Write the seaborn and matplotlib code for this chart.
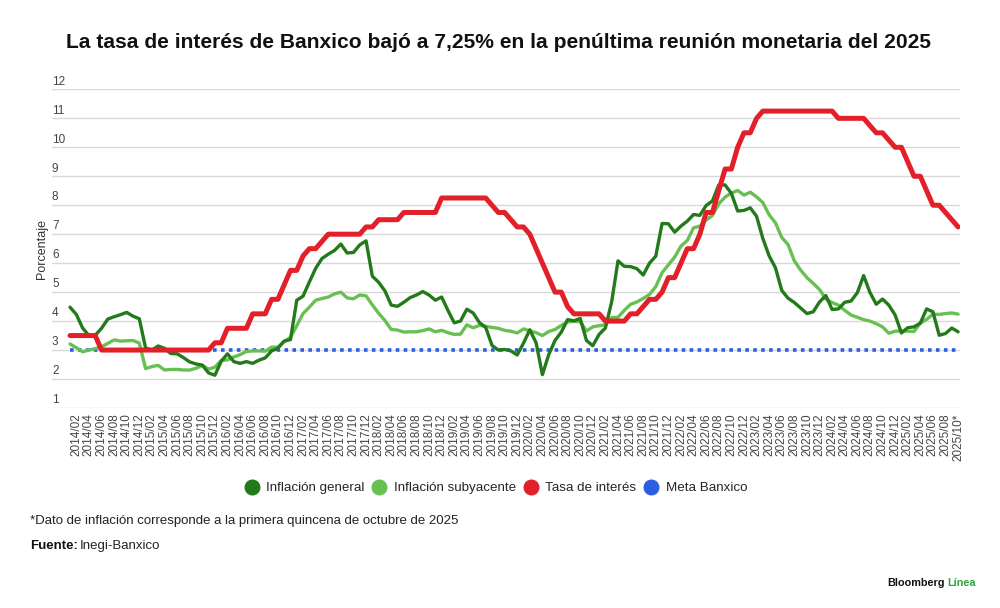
import matplotlib
matplotlib.use('Agg')
import matplotlib.pyplot as plt
import seaborn as sns
import pandas as pd
from matplotlib.lines import Line2D

# Monthly data, 2014/01 .. 2025/10 (last inflation value = first half of October)
inflacion_general = [
    4.48, 4.23, 3.76, 3.50, 3.51, 3.75, 4.07, 4.15, 4.22, 4.30, 4.17, 4.08,
    3.07, 3.00, 3.14, 3.06, 2.88, 2.87, 2.74, 2.59, 2.52, 2.48, 2.21, 2.13,
    2.61, 2.87, 2.60, 2.54, 2.60, 2.54, 2.65, 2.73, 2.97, 3.06, 3.31, 3.36,
    4.72, 4.86, 5.35, 5.82, 6.16, 6.31, 6.44, 6.66, 6.35, 6.37, 6.63, 6.77,
    5.55, 5.34, 5.04, 4.55, 4.51, 4.65, 4.81, 4.90, 5.02, 4.90, 4.72, 4.83,
    4.37, 3.94, 4.00, 4.41, 4.28, 3.95, 3.78, 3.16, 3.00, 3.02, 2.97, 2.83,
    3.24, 3.70, 3.25, 2.15, 2.84, 3.33, 3.62, 4.05, 4.01, 4.09, 3.33, 3.15,
    3.54, 3.76, 4.67, 6.08, 5.89, 5.88, 5.81, 5.59, 6.00, 6.24, 7.37, 7.36,
    7.07, 7.28, 7.45, 7.68, 7.65, 7.99, 8.15, 8.70, 8.70, 8.41, 7.80, 7.82,
    7.91, 7.62, 6.85, 6.25, 5.84, 5.06, 4.79, 4.64, 4.45, 4.26, 4.32, 4.66,
    4.88, 4.40, 4.42, 4.65, 4.69, 4.98, 5.57, 4.99, 4.58, 4.76, 4.55, 4.21,
    3.59, 3.77, 3.80, 3.93, 4.42, 4.32, 3.51, 3.57, 3.76, 3.63,
]
inflacion_subyacente = [
    3.21, 3.08, 2.94, 3.00, 3.05, 3.11, 3.23, 3.35, 3.31, 3.32, 3.33, 3.24,
    2.36, 2.43, 2.47, 2.31, 2.33, 2.33, 2.31, 2.31, 2.37, 2.47, 2.34, 2.41,
    2.64, 2.66, 2.76, 2.84, 2.95, 2.97, 2.97, 2.96, 3.10, 3.10, 3.29, 3.44,
    3.84, 4.26, 4.48, 4.72, 4.78, 4.83, 4.94, 5.00, 4.80, 4.77, 4.90, 4.87,
    4.56, 4.27, 4.02, 3.71, 3.69, 3.62, 3.63, 3.63, 3.67, 3.73, 3.63, 3.68,
    3.60, 3.54, 3.55, 3.87, 3.77, 3.85, 3.82, 3.78, 3.75, 3.68, 3.65, 3.59,
    3.73, 3.66, 3.60, 3.50, 3.64, 3.71, 3.85, 3.97, 3.99, 3.98, 3.66, 3.80,
    3.84, 3.87, 4.12, 4.13, 4.37, 4.58, 4.66, 4.78, 4.92, 5.19, 5.67, 5.94,
    6.21, 6.59, 6.78, 7.22, 7.28, 7.49, 7.65, 8.05, 8.28, 8.42, 8.51, 8.35,
    8.45, 8.29, 8.09, 7.67, 7.39, 6.89, 6.64, 6.08, 5.76, 5.50, 5.30, 5.09,
    4.76, 4.64, 4.55, 4.37, 4.21, 4.13, 4.05, 4.00, 3.91, 3.80, 3.58, 3.65,
    3.66, 3.65, 3.64, 3.93, 4.06, 4.24, 4.23, 4.26, 4.28, 4.24,
]
tasa_interes = [
    3.50, 3.50, 3.50, 3.50, 3.50, 3.00, 3.00, 3.00, 3.00, 3.00, 3.00, 3.00,
    3.00, 3.00, 3.00, 3.00, 3.00, 3.00, 3.00, 3.00, 3.00, 3.00, 3.00, 3.25,
    3.25, 3.75, 3.75, 3.75, 3.75, 4.25, 4.25, 4.25, 4.75, 4.75, 5.25, 5.75,
    5.75, 6.25, 6.50, 6.50, 6.75, 7.00, 7.00, 7.00, 7.00, 7.00, 7.00, 7.25,
    7.25, 7.50, 7.50, 7.50, 7.50, 7.75, 7.75, 7.75, 7.75, 7.75, 7.75, 8.25,
    8.25, 8.25, 8.25, 8.25, 8.25, 8.25, 8.25, 8.00, 7.75, 7.75, 7.50, 7.25,
    7.25, 7.00, 6.50, 6.00, 5.50, 5.00, 5.00, 4.50, 4.25, 4.25, 4.25, 4.25,
    4.25, 4.00, 4.00, 4.00, 4.00, 4.25, 4.25, 4.50, 4.75, 4.75, 5.00, 5.50,
    5.50, 6.00, 6.50, 6.50, 7.00, 7.75, 7.75, 8.50, 9.25, 9.25, 10.00, 10.50,
    10.50, 11.00, 11.25, 11.25, 11.25, 11.25, 11.25, 11.25, 11.25, 11.25, 11.25, 11.25,
    11.25, 11.25, 11.00, 11.00, 11.00, 11.00, 11.00, 10.75, 10.50, 10.50, 10.25, 10.00,
    10.00, 9.50, 9.00, 9.00, 8.50, 8.00, 8.00, 7.75, 7.50, 7.25,
]
meta_banxico = 3.0

meses = [f'{y}/{m:02d}' for y in range(2014, 2026) for m in range(1, 13)][:len(tasa_interes)]
etiquetas = [m if i % 2 == 1 else '' for i, m in enumerate(meses)]
etiquetas[-1] = meses[-1] + '*'

series_names = ['Inflación general', 'Inflación subyacente', 'Tasa de interés', 'Meta Banxico']
colors = ['#237a1b', '#68c052', '#e3202a', '#2b5fe0']

df = pd.DataFrame({
    'idx': range(len(meses)),
    'Inflación general': inflacion_general,
    'Inflación subyacente': inflacion_subyacente,
    'Tasa de interés': tasa_interes,
    'Meta Banxico': [meta_banxico] * len(meses),
})

sns.set_style('white')
plt.rcParams['font.family'] = ['Liberation Sans', 'DejaVu Sans']

fig = plt.figure(figsize=(10, 6.08), dpi=100)
ax = fig.add_axes([0.052, 0.329, 0.908, 0.524])

sns.lineplot(data=df, x='idx', y='Meta Banxico', ax=ax, color=colors[3],
             linewidth=2.6, linestyle=(0, (1, 1.2)), zorder=2)
sns.lineplot(data=df, x='idx', y='Inflación subyacente', ax=ax, color=colors[1],
             linewidth=2.4, zorder=3)
sns.lineplot(data=df, x='idx', y='Inflación general', ax=ax, color=colors[0],
             linewidth=2.4, zorder=4)
sns.lineplot(data=df, x='idx', y='Tasa de interés', ax=ax, color=colors[2],
             linewidth=3.6, zorder=5)

ax.set_xlim(-2.86, 141.3)
ax.set_ylim(1, 12.0)
ax.set_yticks(range(1, 13))
ax.yaxis.grid(True, color='#d9d9d9', linewidth=1)
ax.xaxis.grid(False)
for s in ax.spines.values():
    s.set_visible(False)

# y tick labels sit just above the grid lines, left aligned
ax.set_yticklabels([])
ax.tick_params(axis='y', length=0)
for v in range(1, 13):
    ax.text(0.0, v + 0.06, str(v), transform=ax.get_yaxis_transform(),
            ha='left', va='bottom', fontsize=8.5, color='#444444')

ax.set_xticks(range(len(meses)))
ax.set_xticklabels(etiquetas, rotation=90, fontsize=8.5, color='#444444')
ax.tick_params(axis='x', length=0, pad=4)
ax.set_xlabel('')
ax.set_ylabel('Porcentaje', fontsize=9, color='#333333', labelpad=2)
ax.yaxis.set_label_coords(-0.004, 0.5)

fig.text(0.4985, 0.93, 'La tasa de interés de Banxico bajó a 7,25% en la penúltima reunión monetaria del 2025',
         ha='center', va='center', fontsize=15.1, fontweight='bold', color='#111111')

handles = [Line2D([], [], marker='o', linestyle='', markersize=10.5, color=c) for c in colors]
fig.legend(handles, series_names, loc='center', bbox_to_anchor=(0.496, 0.197), ncol=4,
           frameon=False, fontsize=9.6, handlelength=1.0, handletextpad=0.6,
           columnspacing=0.6)

fig.text(0.03, 0.143, '*Dato de inflación corresponde a la primera quincena de octubre de 2025',
         ha='left', va='center', fontsize=9.5, color='#222222')
fig.text(0.03, 0.102, 'Fuente:', ha='left', va='center', fontsize=9.5,
         fontweight='bold', color='#111111')
fig.text(0.03 + 0.050, 0.102, 'Inegi-Banxico', ha='left', va='center', fontsize=9.5, color='#222222')

fig.text(0.945, 0.041, 'Bloomberg', ha='right', va='center', fontsize=7.8, fontweight='bold', color='#111111')
fig.text(0.947, 0.041, 'Línea', ha='left', va='center', fontsize=7.8, fontweight='bold', color='#2fa53a')

plt.savefig('out.png', dpi=100)
